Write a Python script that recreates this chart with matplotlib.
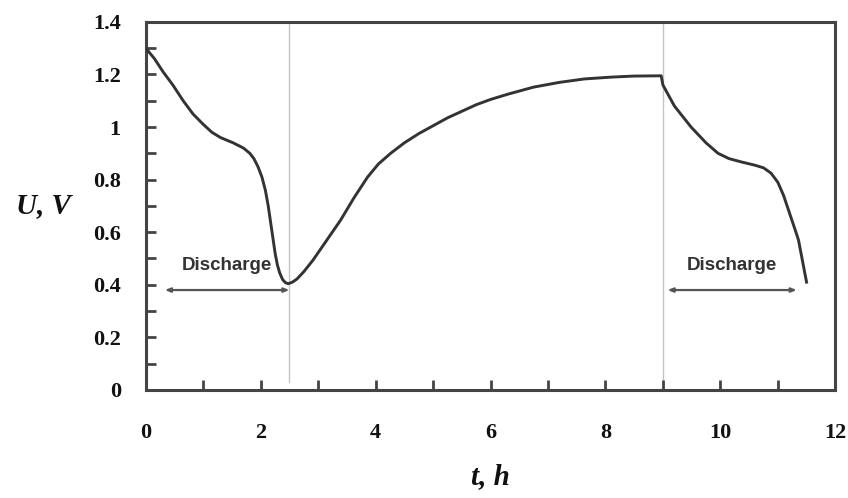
import matplotlib
matplotlib.use("Agg")
import matplotlib.pyplot as plt
import numpy as np

# time (h) and cell voltage (V)
t = [0.00, 0.15, 0.30, 0.47, 0.65, 0.82, 1.00, 1.15, 1.30, 1.52, 1.70, 1.81,
     1.88, 1.95, 2.02, 2.08, 2.13, 2.17, 2.21, 2.25, 2.29, 2.33, 2.38, 2.43,
     2.48, 2.55, 2.63, 2.75, 2.91, 3.15, 3.39, 3.62, 3.86, 4.05, 4.26, 4.50,
     4.75, 5.00, 5.25, 5.50, 5.75, 6.00, 6.30, 6.75, 7.20, 7.63, 8.10, 8.50,
     8.97, 9.00, 9.20, 9.49, 9.75, 9.96, 10.15, 10.37, 10.60, 10.75, 10.88,
     11.00, 11.10, 11.20, 11.30, 11.36, 11.43, 11.50]
U = [1.30, 1.26, 1.21, 1.16, 1.10, 1.05, 1.01, 0.98, 0.96, 0.94, 0.92, 0.90,
     0.88, 0.85, 0.81, 0.76, 0.70, 0.64, 0.58, 0.52, 0.475, 0.445, 0.42, 0.408,
     0.404, 0.41, 0.422, 0.45, 0.494, 0.57, 0.646, 0.73, 0.81, 0.86, 0.90, 0.94,
     0.975, 1.005, 1.035, 1.06, 1.085, 1.105, 1.125, 1.152, 1.170, 1.183, 1.19, 1.194,
     1.195, 1.16, 1.08, 1.00, 0.94, 0.90, 0.88, 0.867, 0.855, 0.845, 0.825,
     0.79, 0.74, 0.675, 0.61, 0.57, 0.49, 0.41]

switch_times = [2.5, 9.0]
discharge_spans = [(0.33, 2.5), (9.08, 11.33)]
discharge_level = 0.38
label_text = "Discharge"

serif = ["Liberation Serif", "DejaVu Serif"]

fig = plt.figure(figsize=(8.48, 4.98), dpi=100)
ax = fig.add_axes([0.172, 0.217, 0.813, 0.739])

for ts in switch_times:
    ax.plot([ts, ts], [0.03, 1.4], color="#c4c4c4", lw=1.0, zorder=1)

ax.plot(t, U, color="#333333", lw=2.1, zorder=3, solid_joinstyle="round")

for x0, x1 in discharge_spans:
    ax.annotate("", xy=(x0, discharge_level), xytext=(x1, discharge_level),
                arrowprops=dict(arrowstyle="<|-|>,head_length=0.3,head_width=0.12",
                                color="#555555", lw=1.6, shrinkA=0, shrinkB=0))
    ax.text((x0 + x1) / 2, discharge_level + 0.095, label_text, ha="center", va="center",
            fontsize=13.5, fontweight="bold", family="Liberation Sans", color="#333333")

ax.set_xlim(0, 12)
ax.set_ylim(0, 1.4)
ax.set_xticks(np.arange(0, 13, 2))
ax.set_xticks(np.arange(1, 12, 2), minor=True)
ax.set_yticks(np.arange(0, 1.41, 0.2))
ax.set_yticks(np.arange(0.1, 1.4, 0.2), minor=True)
ax.set_xticklabels([str(v) for v in range(0, 13, 2)])
ax.set_yticklabels(["0", "0.2", "0.4", "0.6", "0.8", "1", "1.2", "1.4"])

for lab in ax.get_xticklabels() + ax.get_yticklabels():
    lab.set_family(serif)
    lab.set_fontweight("bold")
    lab.set_fontsize(16)
    lab.set_color("#111111")

ax.tick_params(axis="both", which="both", direction="in", length=7, width=2,
               color="#444444")
ax.tick_params(axis="x", which="both", pad=24, top=False)
ax.tick_params(axis="y", which="both", pad=18, right=False)

for s in ax.spines.values():
    s.set_linewidth(2.2)
    s.set_color("#444444")

ax.set_xlabel("t, h", family=serif, fontsize=21, fontweight="bold", style="italic",
              color="#111111", labelpad=14)
ax.set_ylabel("U, V", family=serif, fontsize=21, fontweight="bold", style="italic",
              color="#111111", rotation=0, labelpad=36, va="center")

fig.savefig("out.png", dpi=100, facecolor="white")
